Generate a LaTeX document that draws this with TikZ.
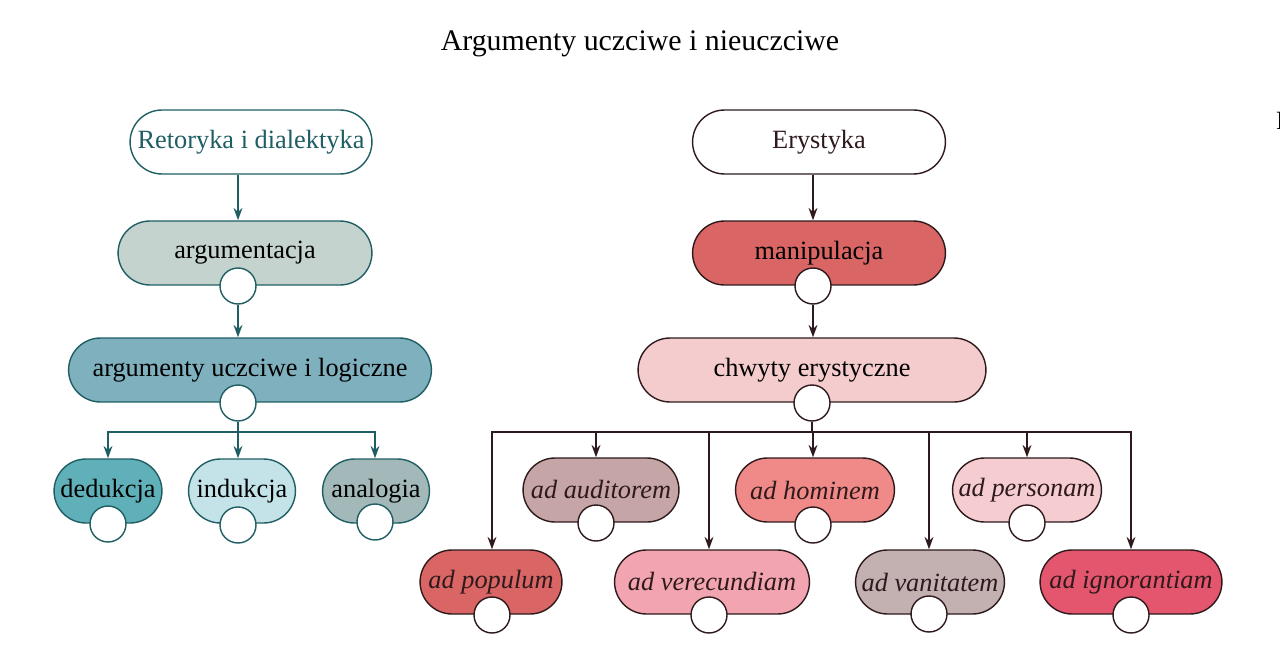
\documentclass[tikz,border=0pt]{standalone}
\usepackage{fontspec}
\setmainfont{Liberation Serif}
\usetikzlibrary{positioning, arrows.meta, shapes.misc}
\definecolor{tealline}{HTML}{1F5E63}
\definecolor{maroonline}{HTML}{2E1A1C}
\definecolor{argcol}{HTML}{C5D3CF}
\definecolor{honcol}{HTML}{7FB0BD}
\definecolor{dedcol}{HTML}{5FB0B8}
\definecolor{indcol}{HTML}{C3E3E9}
\definecolor{anacol}{HTML}{A2B8B9}
\definecolor{mancol}{HTML}{D96565}
\definecolor{chwcol}{HTML}{F5CCCD}
\definecolor{audcol}{HTML}{C5A5A6}
\definecolor{homcol}{HTML}{F08A88}
\definecolor{percol}{HTML}{F5CDD0}
\definecolor{popcol}{HTML}{D96565}
\definecolor{vercol}{HTML}{F2A5B0}
\definecolor{vancol}{HTML}{C3B0B1}
\definecolor{igncol}{HTML}{E4556E}

\begin{document}
\begin{tikzpicture}[
		x=0.02cm, y=-0.02cm,
		>={Stealth[length=7pt, width=5pt]},
		pill/.style={draw, rounded rectangle, minimum height=1.28cm, inner xsep=6pt, font=\fontsize{15}{18}\selectfont, line width=0.8pt},
		lpill/.style={pill, draw=tealline},
		rpill/.style={pill, draw=maroonline},
		adpill/.style={rpill, font=\fontsize{15}{18}\selectfont\itshape, text=maroonline},
		knob/.style={draw, circle, fill=white, minimum size=0.72cm, inner sep=0pt, line width=0.8pt},
		lline/.style={->, draw=tealline, line width=1.3pt},
		rline/.style={->, draw=maroonline, line width=1.3pt},
	]
	\useasboundingbox (0,0) rectangle (1280,672);
	\node[font=\fontsize{17}{20}\selectfont] (title) at (640,44) {Argumenty uczciwe i nieuczciwe};
	\node[font=\fontsize{15}{18}\selectfont, anchor=west] (edge) at (1270,121) {R};

	% left tree
	\node[lpill, fill=white, text=tealline, minimum width=5.26cm] (retoryka) at (251,142) {Retoryka i dialektyka};
	\node[lpill, fill=argcol, minimum width=5.5cm] (argumentacja) at (245,253) {argumentacja};
	\node[lpill, fill=honcol, minimum width=7.68cm] (uczciwe) at (250,370) {argumenty uczciwe i logiczne};
	\node[lpill, fill=dedcol, minimum width=2.58cm] (dedukcja) at (108,491) {dedukcja};
	\node[lpill, fill=indcol, minimum width=2.56cm] (indukcja) at (242,491) {indukcja};
	\node[lpill, fill=anacol, minimum width=2.56cm] (analogia) at (376,491) {analogia};
	\node[knob, draw=tealline] (argumentacja_k) at (238,286) {};
	\node[knob, draw=tealline] (uczciwe_k) at (238,403) {};
	\node[knob, draw=tealline] (dedukcja_k) at (108,524) {};
	\node[knob, draw=tealline] (indukcja_k) at (238,525) {};
	\node[knob, draw=tealline] (analogia_k) at (375,522) {};
	\coordinate (lbar) at (238,432);

	\draw[lline] (argumentacja_k |- retoryka.south) -- (argumentacja_k |- argumentacja.north);
	\draw[lline] (argumentacja_k) -- (argumentacja_k |- uczciwe.north);
	\draw[lline, -] (uczciwe_k) -- (lbar);
	\draw[lline] (lbar) -| (dedukcja_k |- dedukcja.north);
	\draw[lline] (lbar) -- (indukcja_k |- indukcja.north);
	\draw[lline] (lbar) -| (analogia_k |- analogia.north);

	% right tree
	\node[rpill, fill=white, text=maroonline, minimum width=5.48cm] (erystyka) at (819,142) {Erystyka};
	\node[rpill, fill=mancol, minimum width=5.48cm] (manipulacja) at (819,253) {manipulacja};
	\node[rpill, fill=chwcol, minimum width=7.38cm] (chwyty) at (812,370) {chwyty erystyczne};
	\node[adpill, fill=audcol, minimum width=3.54cm] (auditorem) at (601,490) {ad auditorem};
	\node[adpill, fill=homcol, minimum width=3.6cm] (hominem) at (815,490) {ad hominem};
	\node[adpill, fill=percol, minimum width=3.4cm] (personam) at (1027,490) {ad personam};
	\node[adpill, fill=popcol, minimum width=3.26cm] (populum) at (491,582) {ad populum};
	\node[adpill, fill=vercol, minimum width=4.32cm] (verecundiam) at (712,582) {ad verecundiam};
	\node[adpill, fill=vancol, minimum width=3.4cm] (vanitatem) at (930,582) {ad vanitatem};
	\node[adpill, fill=igncol, minimum width=4.06cm] (ignorantiam) at (1131,582) {ad ignorantiam};
	\node[knob, draw=maroonline] (manipulacja_k) at (813,286) {};
	\node[knob, draw=maroonline] (chwyty_k) at (812,403) {};
	\node[knob, draw=maroonline] (auditorem_k) at (596,523) {};
	\node[knob, draw=maroonline] (hominem_k) at (813,525) {};
	\node[knob, draw=maroonline] (personam_k) at (1027,523) {};
	\node[knob, draw=maroonline] (populum_k) at (492,615) {};
	\node[knob, draw=maroonline] (verecundiam_k) at (709,615) {};
	\node[knob, draw=maroonline] (vanitatem_k) at (929,614) {};
	\node[knob, draw=maroonline] (ignorantiam_k) at (1131,615) {};
	\coordinate (rbar) at (812,432);

	\draw[rline] (manipulacja_k |- erystyka.south) -- (manipulacja_k |- manipulacja.north);
	\draw[rline] (manipulacja_k) -- (manipulacja_k |- chwyty.north);
	\draw[rline, -] (chwyty_k) -- (rbar);
	\draw[rline] (rbar) -| (populum_k |- populum.north);
	\draw[rline] (rbar) -| (ignorantiam_k |- ignorantiam.north);
	\foreach \n in {auditorem, hominem, personam, verecundiam, vanitatem}
		\draw[rline] (\n_k |- rbar) -- (\n_k |- \n.north);
\end{tikzpicture}
\end{document}
